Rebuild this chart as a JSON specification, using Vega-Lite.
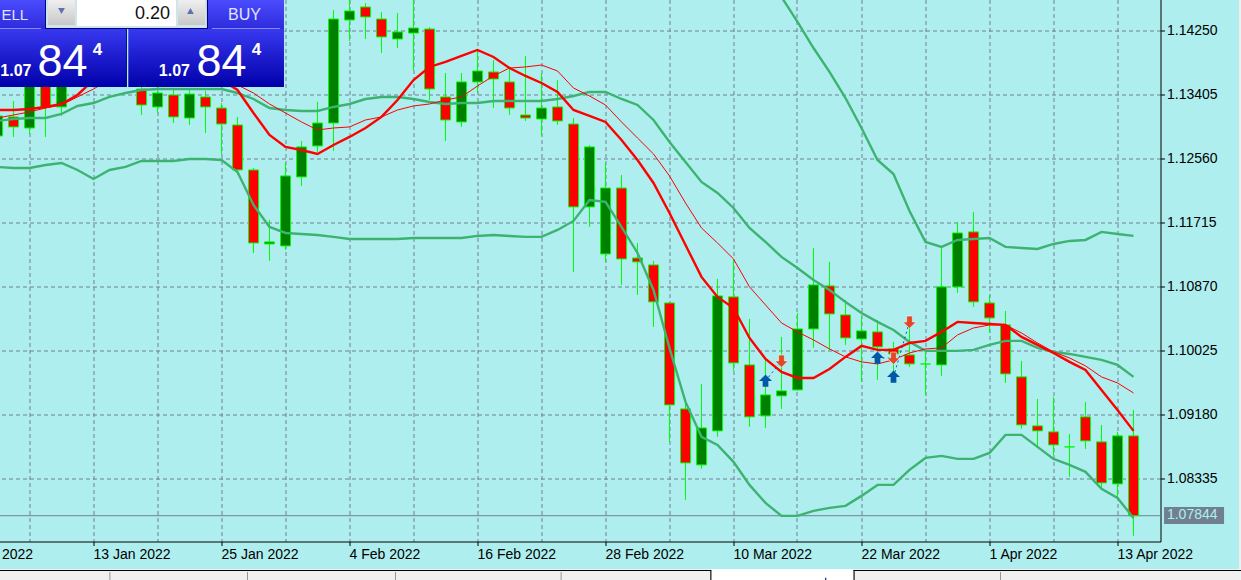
{
"$schema":"https://vega.github.io/schema/vega-lite/v6.json",
"width":1161,"height":542,"autosize":"none","padding":{"left":0,"top":0,"right":80,"bottom":38},
"background":"#AFEEEE",
"config":{"view":{"stroke":null},"text":{"font":"Liberation Sans"}},
"resolve":{"axis":{"x":"independent","y":"independent"}},
"datasets":{
"candles":[
{"k":-1,"open":1.12858,"high":1.13201,"low":1.12805,"close":1.13122,"dir":"up","fast":1.13201,"slow":1.13095,"mid":1.13056,"lower":1.12449},
{"k":0,"open":1.13109,"high":1.1332,"low":1.12845,"close":1.12977,"dir":"down","fast":1.13201,"slow":1.13135,"mid":1.13082,"lower":1.12435},
{"k":1,"open":1.12963,"high":1.13729,"low":1.12884,"close":1.13597,"dir":"up","fast":1.13214,"slow":1.13175,"mid":1.13095,"lower":1.12435},
{"k":2,"open":1.13729,"high":1.13861,"low":1.12845,"close":1.13241,"dir":"down","fast":1.13241,"slow":1.13227,"mid":1.13095,"lower":1.12475},
{"k":3,"open":1.13241,"high":1.13795,"low":1.13122,"close":1.13663,"dir":"up","fast":1.1328,"slow":1.13267,"mid":1.13148,"lower":1.12501},
{"k":4,"open":1.14257,"high":1.14389,"low":1.13663,"close":1.13861,"dir":"down","fast":1.13399,"slow":1.13373,"mid":1.13254,"lower":1.12409},
{"k":5,"open":1.13795,"high":1.14323,"low":1.13597,"close":1.14191,"dir":"up","fast":1.13597,"slow":1.13478,"mid":1.13293,"lower":1.1229},
{"k":6,"open":1.14125,"high":1.14257,"low":1.13663,"close":1.13861,"dir":"down","fast":1.13729,"slow":1.13597,"mid":1.13373,"lower":1.12409},
{"k":7,"open":1.14059,"high":1.14191,"low":1.13597,"close":1.13729,"dir":"down","fast":1.13795,"slow":1.13663,"mid":1.13425,"lower":1.12449},
{"k":8,"open":1.13478,"high":1.13597,"low":1.13135,"close":1.13267,"dir":"down","fast":1.13795,"slow":1.13703,"mid":1.13465,"lower":1.12528},
{"k":9,"open":1.13241,"high":1.13531,"low":1.13161,"close":1.13425,"dir":"up","fast":1.13795,"slow":1.13729,"mid":1.13478,"lower":1.12528},
{"k":10,"open":1.13399,"high":1.13478,"low":1.13029,"close":1.13109,"dir":"down","fast":1.13755,"slow":1.13729,"mid":1.13478,"lower":1.12528},
{"k":11,"open":1.13095,"high":1.13478,"low":1.13003,"close":1.13412,"dir":"up","fast":1.13729,"slow":1.13729,"mid":1.13478,"lower":1.12554},
{"k":12,"open":1.13373,"high":1.13452,"low":1.12897,"close":1.13241,"dir":"down","fast":1.13703,"slow":1.13703,"mid":1.13478,"lower":1.12554},
{"k":13,"open":1.13227,"high":1.13293,"low":1.1262,"close":1.13016,"dir":"down","fast":1.13597,"slow":1.13623,"mid":1.13478,"lower":1.12541},
{"k":14,"open":1.13003,"high":1.13109,"low":1.12343,"close":1.12409,"dir":"down","fast":1.13465,"slow":1.13531,"mid":1.13425,"lower":1.12383},
{"k":15,"open":1.12409,"high":1.12435,"low":1.11313,"close":1.11445,"dir":"down","fast":1.13161,"slow":1.13425,"mid":1.13346,"lower":1.11947},
{"k":16,"open":1.11432,"high":1.11749,"low":1.11208,"close":1.11459,"dir":"up","fast":1.12871,"slow":1.1328,"mid":1.13227,"lower":1.11657},
{"k":17,"open":1.11406,"high":1.12501,"low":1.11353,"close":1.1233,"dir":"up","fast":1.12713,"slow":1.13161,"mid":1.13201,"lower":1.11577},
{"k":18,"open":1.12317,"high":1.12792,"low":1.12198,"close":1.12713,"dir":"up","fast":1.12673,"slow":1.13043,"mid":1.13188,"lower":1.11564},
{"k":19,"open":1.12726,"high":1.13307,"low":1.12647,"close":1.13029,"dir":"up","fast":1.1262,"slow":1.12937,"mid":1.13188,"lower":1.11551},
{"k":20,"open":1.13029,"high":1.14521,"low":1.1266,"close":1.14402,"dir":"up","fast":1.12739,"slow":1.12963,"mid":1.13241,"lower":1.11525},
{"k":21,"open":1.14389,"high":1.14719,"low":1.14112,"close":1.14508,"dir":"up","fast":1.12845,"slow":1.12977,"mid":1.1328,"lower":1.11498},
{"k":22,"open":1.14561,"high":1.14613,"low":1.14138,"close":1.14429,"dir":"down","fast":1.12963,"slow":1.13069,"mid":1.13346,"lower":1.11498},
{"k":23,"open":1.14402,"high":1.14495,"low":1.13953,"close":1.14165,"dir":"down","fast":1.13109,"slow":1.13109,"mid":1.13373,"lower":1.11498},
{"k":24,"open":1.14138,"high":1.14481,"low":1.14019,"close":1.14231,"dir":"up","fast":1.13333,"slow":1.13201,"mid":1.13373,"lower":1.11498},
{"k":25,"open":1.14217,"high":1.14719,"low":1.13729,"close":1.14283,"dir":"up","fast":1.13597,"slow":1.13254,"mid":1.13346,"lower":1.11511},
{"k":26,"open":1.1427,"high":1.14297,"low":1.13333,"close":1.13478,"dir":"down","fast":1.13769,"slow":1.1328,"mid":1.13307,"lower":1.11511},
{"k":27,"open":1.13373,"high":1.13689,"low":1.12792,"close":1.13069,"dir":"down","fast":1.13835,"slow":1.13333,"mid":1.1328,"lower":1.11511},
{"k":28,"open":1.13043,"high":1.13689,"low":1.12977,"close":1.13571,"dir":"up","fast":1.13914,"slow":1.13373,"mid":1.13293,"lower":1.11511},
{"k":29,"open":1.13571,"high":1.13993,"low":1.13425,"close":1.13716,"dir":"up","fast":1.13993,"slow":1.13518,"mid":1.13293,"lower":1.11538},
{"k":30,"open":1.13703,"high":1.13861,"low":1.13227,"close":1.1361,"dir":"down","fast":1.13901,"slow":1.1365,"mid":1.1332,"lower":1.11551},
{"k":31,"open":1.13571,"high":1.13755,"low":1.13135,"close":1.13227,"dir":"down","fast":1.13755,"slow":1.13755,"mid":1.1332,"lower":1.11538},
{"k":32,"open":1.13135,"high":1.13914,"low":1.13056,"close":1.13095,"dir":"down","fast":1.1365,"slow":1.13769,"mid":1.1332,"lower":1.11525},
{"k":33,"open":1.13082,"high":1.13689,"low":1.12858,"close":1.13227,"dir":"up","fast":1.13557,"slow":1.13795,"mid":1.1332,"lower":1.11525},
{"k":34,"open":1.13241,"high":1.13597,"low":1.13003,"close":1.13056,"dir":"down","fast":1.13439,"slow":1.13716,"mid":1.13346,"lower":1.11617},
{"k":35,"open":1.13016,"high":1.13095,"low":1.11063,"close":1.11921,"dir":"down","fast":1.13201,"slow":1.13491,"mid":1.13386,"lower":1.11736},
{"k":36,"open":1.11921,"high":1.12739,"low":1.11657,"close":1.12713,"dir":"up","fast":1.13122,"slow":1.13386,"mid":1.13439,"lower":1.12013},
{"k":37,"open":1.113,"high":1.12501,"low":1.11195,"close":1.12171,"dir":"up","fast":1.13043,"slow":1.13267,"mid":1.13439,"lower":1.11987},
{"k":38,"open":1.12171,"high":1.12343,"low":1.10891,"close":1.11234,"dir":"down","fast":1.12805,"slow":1.13043,"mid":1.13346,"lower":1.11657},
{"k":39,"open":1.11247,"high":1.11445,"low":1.10759,"close":1.11195,"dir":"down","fast":1.12541,"slow":1.12831,"mid":1.13267,"lower":1.11313},
{"k":40,"open":1.11155,"high":1.11208,"low":1.10337,"close":1.10667,"dir":"down","fast":1.12237,"slow":1.1262,"mid":1.13069,"lower":1.10825},
{"k":41,"open":1.10653,"high":1.10667,"low":1.08819,"close":1.09307,"dir":"down","fast":1.11841,"slow":1.1233,"mid":1.12779,"lower":1.10059},
{"k":42,"open":1.09254,"high":1.09333,"low":1.08053,"close":1.08541,"dir":"down","fast":1.11419,"slow":1.11973,"mid":1.12515,"lower":1.09347},
{"k":43,"open":1.08515,"high":1.09584,"low":1.08462,"close":1.09003,"dir":"up","fast":1.10997,"slow":1.11643,"mid":1.12251,"lower":1.08885},
{"k":44,"open":1.08964,"high":1.1097,"low":1.08885,"close":1.10746,"dir":"up","fast":1.10733,"slow":1.11445,"mid":1.12105,"lower":1.08779},
{"k":45,"open":1.10733,"high":1.11221,"low":1.09756,"close":1.09861,"dir":"down","fast":1.10587,"slow":1.11234,"mid":1.11907,"lower":1.08555},
{"k":46,"open":1.09835,"high":1.10442,"low":1.09017,"close":1.09149,"dir":"down","fast":1.10191,"slow":1.10865,"mid":1.11643,"lower":1.08251},
{"k":47,"open":1.09162,"high":1.09901,"low":1.09003,"close":1.09439,"dir":"up","fast":1.09914,"slow":1.10627,"mid":1.11459,"lower":1.08013},
{"k":48,"open":1.09426,"high":1.10205,"low":1.09254,"close":1.09492,"dir":"up","fast":1.09743,"slow":1.10389,"mid":1.11261,"lower":1.07842},
{"k":49,"open":1.09505,"high":1.10521,"low":1.09492,"close":1.1031,"dir":"up","fast":1.09663,"slow":1.10271,"mid":1.11115,"lower":1.07842},
{"k":50,"open":1.1031,"high":1.11379,"low":1.10059,"close":1.10891,"dir":"up","fast":1.09663,"slow":1.10165,"mid":1.10957,"lower":1.07908},
{"k":51,"open":1.10878,"high":1.11195,"low":1.10033,"close":1.10508,"dir":"down","fast":1.09782,"slow":1.10046,"mid":1.10825,"lower":1.07947},
{"k":52,"open":1.10495,"high":1.10693,"low":1.10099,"close":1.10191,"dir":"down","fast":1.09941,"slow":1.09941,"mid":1.10667,"lower":1.07974},
{"k":53,"open":1.10178,"high":1.10469,"low":1.09611,"close":1.10284,"dir":"up","fast":1.10086,"slow":1.09875,"mid":1.10521,"lower":1.08106},
{"k":54,"open":1.10271,"high":1.10429,"low":1.09637,"close":1.10073,"dir":"down","fast":1.10033,"slow":1.09848,"mid":1.10403,"lower":1.08251},
{"k":55,"open":1.10046,"high":1.10139,"low":1.09729,"close":1.0998,"dir":"down","fast":1.10033,"slow":1.09901,"mid":1.10297,"lower":1.08251},
{"k":56,"open":1.09967,"high":1.10323,"low":1.09809,"close":1.09848,"dir":"down","fast":1.10125,"slow":1.09993,"mid":1.10139,"lower":1.08449},
{"k":57,"open":1.09848,"high":1.10033,"low":1.09439,"close":1.09848,"dir":"up","fast":1.10152,"slow":1.10046,"mid":1.1002,"lower":1.08607},
{"k":58,"open":1.09835,"high":1.11393,"low":1.0969,"close":1.10865,"dir":"up","fast":1.10271,"slow":1.10059,"mid":1.1002,"lower":1.08634},
{"k":59,"open":1.10865,"high":1.11723,"low":1.10785,"close":1.11577,"dir":"up","fast":1.10403,"slow":1.10231,"mid":1.1002,"lower":1.08594},
{"k":60,"open":1.11591,"high":1.11855,"low":1.10601,"close":1.10667,"dir":"down","fast":1.10389,"slow":1.10323,"mid":1.10033,"lower":1.08594},
{"k":61,"open":1.10653,"high":1.10759,"low":1.10257,"close":1.10455,"dir":"down","fast":1.10376,"slow":1.10363,"mid":1.10099,"lower":1.08673},
{"k":62,"open":1.10363,"high":1.10548,"low":1.09597,"close":1.09716,"dir":"down","fast":1.10363,"slow":1.10363,"mid":1.10152,"lower":1.08911},
{"k":63,"open":1.09677,"high":1.09888,"low":1.0899,"close":1.09043,"dir":"down","fast":1.10205,"slow":1.10257,"mid":1.10152,"lower":1.08911},
{"k":64,"open":1.0903,"high":1.09386,"low":1.08753,"close":1.08964,"dir":"down","fast":1.10099,"slow":1.10125,"mid":1.10059,"lower":1.08753},
{"k":65,"open":1.08951,"high":1.09413,"low":1.08647,"close":1.08779,"dir":"down","fast":1.09993,"slow":1.10007,"mid":1.10007,"lower":1.08594},
{"k":66,"open":1.08753,"high":1.08924,"low":1.08357,"close":1.08753,"dir":"up","fast":1.09875,"slow":1.09927,"mid":1.0998,"lower":1.08515},
{"k":67,"open":1.09149,"high":1.09347,"low":1.08726,"close":1.08832,"dir":"down","fast":1.09769,"slow":1.09822,"mid":1.09941,"lower":1.08423},
{"k":68,"open":1.08819,"high":1.09043,"low":1.08211,"close":1.08277,"dir":"down","fast":1.09505,"slow":1.09677,"mid":1.09901,"lower":1.08198},
{"k":69,"open":1.08264,"high":1.08951,"low":1.08079,"close":1.08898,"dir":"up","fast":1.09241,"slow":1.09597,"mid":1.09835,"lower":1.08079},
{"k":70,"open":1.08898,"high":1.09241,"low":1.07578,"close":1.07844,"dir":"down","fast":1.08964,"slow":1.09465,"mid":1.09677,"lower":1.07815}
],
"upper":[
{"k":48,"price":1.14693},{"k":49,"price":1.14363},{"k":50,"price":1.14019},{"k":51,"price":1.13703},{"k":52,"price":1.13359},{"k":53,"price":1.12963},{"k":54,"price":1.12541},{"k":55,"price":1.12356},{"k":56,"price":1.11868},{"k":57,"price":1.11459},{"k":58,"price":1.11393},{"k":59,"price":1.11485},{"k":60,"price":1.11498},{"k":61,"price":1.11511},{"k":62,"price":1.11393},{"k":63,"price":1.11379},{"k":64,"price":1.11366},{"k":65,"price":1.11432},{"k":66,"price":1.11472},{"k":67,"price":1.11485},{"k":68,"price":1.11591},{"k":69,"price":1.11564},{"k":70,"price":1.11538}
],
"trades":[
{"k":47,"k2":48,"p":1.09624,"p2":1.09888},{"k":54,"k2":55,"p":1.09927,"p2":1.09927},{"k":55,"k2":56,"p":1.09677,"p2":1.10403}
],
"buys":[{"k":47,"price":1.09624},{"k":54,"price":1.09927},{"k":55,"price":1.09677}],
"sells":[{"k":48,"price":1.09888},{"k":55,"price":1.09927},{"k":56,"price":1.10403}]
},
"layer":[
{"data":{"name":"candles"},"mark":{"type":"rule","color":"#00ff00","strokeWidth":1},
 "encoding":{"x":{"field":"k","type":"quantitative","scale":{"domain":[-0.84375,71.71875],"nice":false,"zero":false,"padding":0},
 "axis":{"title":null,"orient":"bottom","values":[1,5,9,13,17,21,25,29,33,37,41,45,49,53,57,61,65,69],"translate":0,"grid":true,"gridColor":"#708090","gridDash":[4,3],"gridWidth":1,"domainColor":"#000000","domainWidth":1,"tickColor":"#000000","tickSize":4,"tickOpacity":{"condition":{"test":"(datum.value+3)%8==0","value":1},"value":0},"labelColor":"#000000","labelFont":"Liberation Sans","labelFontSize":14,"labelAlign":"left","labelBaseline":"top","labelPadding":2,"labelOverlap":false,"labelFlush":false,"labelBound":false,"labelExpr":"['3 Jan 2022','13 Jan 2022','25 Jan 2022','4 Feb 2022','16 Feb 2022','28 Feb 2022','10 Mar 2022','22 Mar 2022','1 Apr 2022','13 Apr 2022'][(datum.value+3)/8]||''"}},
 "y":{"field":"low","type":"quantitative","scale":{"domain":[1.07497,1.14653],"nice":false,"zero":false},
 "axis":{"title":null,"orient":"right","values":[1.1425,1.13405,1.1256,1.11715,1.1087,1.10025,1.0918,1.08335],"format":".5f","translate":0,"grid":true,"gridColor":"#708090","gridDash":[4,3],"gridWidth":1,"domainColor":"#000000","domainWidth":1,"tickColor":"#000000","tickSize":4,"labelColor":"#000000","labelFont":"Liberation Sans","labelFontSize":14,"labelPadding":2,"labelOverlap":false,"labelFlush":false,"labelBound":false}},"y2":{"field":"high"}}},
{"data":{"values":[{"price":1.07844}]},"mark":{"type":"rule","color":"#708090","strokeWidth":1},"encoding":{"y":{"field":"price","type":"quantitative","axis":null}}},
{"data":{"name":"candles"},"mark":{"type":"bar","size":10,"stroke":"#00ff00","strokeWidth":1},
 "encoding":{"x":{"field":"k","type":"quantitative","scale":{"domain":[-0.84375,71.71875],"nice":false,"zero":false,"padding":0},"axis":null},"y":{"field":"open","type":"quantitative","axis":null},"y2":{"field":"close"},
 "color":{"field":"dir","type":"nominal","scale":{"domain":["up","down"],"range":["#008000","#ff0000"]},"legend":null}}},
{"data":{"name":"upper"},"mark":{"type":"line","color":"#3CB371","strokeWidth":2.4},"encoding":{"x":{"field":"k","type":"quantitative","axis":null},"y":{"field":"price","type":"quantitative","axis":null}}},
{"data":{"name":"candles"},"mark":{"type":"line","color":"#3CB371","strokeWidth":2.4},"encoding":{"x":{"field":"k","type":"quantitative","axis":null},"y":{"field":"mid","type":"quantitative","axis":null}}},
{"data":{"name":"candles"},"mark":{"type":"line","color":"#3CB371","strokeWidth":2.4},"encoding":{"x":{"field":"k","type":"quantitative","axis":null},"y":{"field":"lower","type":"quantitative","axis":null}}},
{"data":{"name":"candles"},"mark":{"type":"line","color":"#ff0000","strokeWidth":1},"encoding":{"x":{"field":"k","type":"quantitative","axis":null},"y":{"field":"slow","type":"quantitative","axis":null}}},
{"data":{"name":"candles"},"mark":{"type":"line","color":"#ff0000","strokeWidth":2.4},"encoding":{"x":{"field":"k","type":"quantitative","axis":null},"y":{"field":"fast","type":"quantitative","axis":null}}},
{"data":{"name":"trades"},"mark":{"type":"rule","color":"#0058A8","strokeWidth":1,"strokeDash":[2,3]},"encoding":{"x":{"field":"k","type":"quantitative","axis":null},"x2":{"field":"k2"},"y":{"field":"p","type":"quantitative","axis":null},"y2":{"field":"p2"}}},
{"data":{"name":"buys"},"mark":{"type":"point","filled":true,"opacity":1,"size":169,"color":"#0058A8","shape":"M0,-1L1,0L0.44,0L0.44,0.9L-0.44,0.9L-0.44,0L-1,0Z"},"encoding":{"x":{"field":"k","type":"quantitative","axis":null},"y":{"field":"price","type":"quantitative","axis":null}}},
{"data":{"name":"sells"},"mark":{"type":"point","filled":true,"opacity":1,"size":169,"color":"#E04828","stroke":"#EEF8F8","strokeWidth":0.6,"shape":"M0,1L1,0L0.44,0L0.44,-0.9L-0.44,-0.9L-0.44,0L-1,0Z"},"encoding":{"x":{"field":"k","type":"quantitative","axis":null},"y":{"field":"price","type":"quantitative","axis":null}}},
{"data":{"values":[{"a":71.91,"b":75.66,"c":1.07959,"d":1.07734}]},"mark":{"type":"rect","color":"#708090"},"encoding":{"x":{"field":"a","type":"quantitative","axis":null},"x2":{"field":"b"},"y":{"field":"c","type":"quantitative","axis":null},"y2":{"field":"d"}}},
{"data":{"values":[{"a":72.09,"c":1.07847,"t":"1.07844"}]},"mark":{"type":"text","align":"left","baseline":"middle","font":"Liberation Sans","fontSize":14,"color":"#AFEEEE"},"encoding":{"x":{"field":"a","type":"quantitative","axis":null},"y":{"field":"c","type":"quantitative","axis":null},"text":{"field":"t"}}},
{"data":{"values":[{"a":-0.72,"c":1.07418,"t":"2022"}]},"mark":{"type":"text","align":"left","baseline":"top","font":"Liberation Sans","fontSize":14,"color":"#000000"},"encoding":{"x":{"field":"a","type":"quantitative","axis":null},"y":{"field":"c","type":"quantitative","axis":null},"text":{"field":"t"}}},
{"data":{"values":[{"a":-0.9,"b":16.906,"c":1.1466,"d":1.1427}]},"mark":{"type":"rect","color":{"gradient":"linear","x1":0,"y1":0,"x2":0,"y2":1,"stops":[{"offset":0,"color":"#4C4CFF"},{"offset":1,"color":"#2C2CDC"}]}},"encoding":{"x":{"field":"a","type":"quantitative","axis":null},"x2":{"field":"b"},"y":{"field":"c","type":"quantitative","axis":null},"y2":{"field":"d"}}},
{"data":{"values":[{"a":-0.9,"b":16.906,"c":1.1427,"d":1.13504}]},"mark":{"type":"rect","color":{"gradient":"linear","x1":0,"y1":0,"x2":0,"y2":1,"stops":[{"offset":0,"color":"#3838F0"},{"offset":1,"color":"#0000AA"}]}},"encoding":{"x":{"field":"a","type":"quantitative","axis":null},"x2":{"field":"b"},"y":{"field":"c","type":"quantitative","axis":null},"y2":{"field":"d"}}},
{"data":{"values":[{"a":7.03,"b":7.09,"c":1.1427,"d":1.13504}]},"mark":{"type":"rect","color":"#000080"},"encoding":{"x":{"field":"a","type":"quantitative","axis":null},"x2":{"field":"b"},"y":{"field":"c","type":"quantitative","axis":null},"y2":{"field":"d"}}},
{"data":{"values":[{"a":7.09,"b":7.175,"c":1.1427,"d":1.13504}]},"mark":{"type":"rect","color":"#AFEEEE"},"encoding":{"x":{"field":"a","type":"quantitative","axis":null},"x2":{"field":"b"},"y":{"field":"c","type":"quantitative","axis":null},"y2":{"field":"d"}}},
{"data":{"values":[{"a":1.969,"b":12.156,"c":1.1466,"d":1.1427}]},"mark":{"type":"rect","color":"#000080"},"encoding":{"x":{"field":"a","type":"quantitative","axis":null},"x2":{"field":"b"},"y":{"field":"c","type":"quantitative","axis":null},"y2":{"field":"d"}}},
{"data":{"values":[{"a":2.03,"b":12.09,"c":1.1466,"d":1.14283}]},"mark":{"type":"rect","color":"#D0E4EC"},"encoding":{"x":{"field":"a","type":"quantitative","axis":null},"x2":{"field":"b"},"y":{"field":"c","type":"quantitative","axis":null},"y2":{"field":"d"}}},
{"data":{"values":[{"a":3.969,"b":10.156,"c":1.1466,"d":1.1431}]},"mark":{"type":"rect","color":"#FFFFFF"},"encoding":{"x":{"field":"a","type":"quantitative","axis":null},"x2":{"field":"b"},"y":{"field":"c","type":"quantitative","axis":null},"y2":{"field":"d"}}},
{"data":{"values":[{"a":2.156,"b":3.844,"c":1.1466,"d":1.14323},{"a":10.281,"b":11.969,"c":1.1466,"d":1.14323}]},"mark":{"type":"rect","color":{"gradient":"linear","x1":0,"y1":0,"x2":0,"y2":1,"stops":[{"offset":0,"color":"#F0F0F0"},{"offset":1,"color":"#C8C8C8"}]}},"encoding":{"x":{"field":"a","type":"quantitative","axis":null},"x2":{"field":"b"},"y":{"field":"c","type":"quantitative","axis":null},"y2":{"field":"d"}}},
{"data":{"values":[{"a":-0.9,"b":1.72,"c":1.14283,"d":1.1427},{"a":12.4,"b":16.66,"c":1.14283,"d":1.1427}]},"mark":{"type":"rect","color":"#8888EE"},"encoding":{"x":{"field":"a","type":"quantitative","axis":null},"x2":{"field":"b"},"y":{"field":"c","type":"quantitative","axis":null},"y2":{"field":"d"}}},
{"data":{"values":[{"a":3,"c":1.14508}]},"mark":{"type":"point","shape":"triangle-down","filled":true,"opacity":1,"size":45,"color":"#6070B0"},"encoding":{"x":{"field":"a","type":"quantitative","axis":null},"y":{"field":"c","type":"quantitative","axis":null}}},
{"data":{"values":[{"a":11.06,"c":1.14508}]},"mark":{"type":"point","shape":"triangle-up","filled":true,"opacity":1,"size":45,"color":"#6070B0"},"encoding":{"x":{"field":"a","type":"quantitative","axis":null},"y":{"field":"c","type":"quantitative","axis":null}}},
{"data":{"values":[{"a":-0.75,"c":1.14389,"t":"ELL"}]},"mark":{"type":"text","align":"left","baseline":"alphabetic","font":"Liberation Sans","fontSize":15,"color":"#E0E4FF"},"encoding":{"x":{"field":"a","type":"quantitative","axis":null},"y":{"field":"c","type":"quantitative","axis":null},"text":{"field":"t"}}},
{"data":{"values":[{"a":15.47,"c":1.14389,"t":"BUY"}]},"mark":{"type":"text","align":"right","baseline":"alphabetic","font":"Liberation Sans","fontSize":16,"color":"#E0E4FF"},"encoding":{"x":{"field":"a","type":"quantitative","axis":null},"y":{"field":"c","type":"quantitative","axis":null},"text":{"field":"t"}}},
{"data":{"values":[{"a":9.78,"c":1.14396,"t":"0.20"}]},"mark":{"type":"text","align":"right","baseline":"alphabetic","font":"Liberation Sans","fontSize":18,"color":"#101010"},"encoding":{"x":{"field":"a","type":"quantitative","axis":null},"y":{"field":"c","type":"quantitative","axis":null},"text":{"field":"t"}}},
{"data":{"values":[{"a":1.125,"c":1.1365,"t":"1.07"},{"a":11.03,"c":1.1365,"t":"1.07"}]},"mark":{"type":"text","align":"right","baseline":"alphabetic","font":"Liberation Sans","fontWeight":"bold","fontSize":16,"color":"#FFFFFF"},"encoding":{"x":{"field":"a","type":"quantitative","axis":null},"y":{"field":"c","type":"quantitative","axis":null},"text":{"field":"t"}}},
{"data":{"values":[{"a":3.0625,"c":1.1365,"t":"84"},{"a":13,"c":1.1365,"t":"84"}]},"mark":{"type":"text","align":"center","baseline":"alphabetic","font":"Liberation Sans","fontSize":45,"color":"#FFFFFF"},"encoding":{"x":{"field":"a","type":"quantitative","axis":null},"y":{"field":"c","type":"quantitative","axis":null},"text":{"field":"t"}}},
{"data":{"values":[{"a":5.25,"c":1.13927,"t":"4"},{"a":15.19,"c":1.13927,"t":"4"}]},"mark":{"type":"text","align":"center","baseline":"alphabetic","font":"Liberation Sans","fontWeight":"bold","fontSize":17,"color":"#FFFFFF"},"encoding":{"x":{"field":"a","type":"quantitative","axis":null},"y":{"field":"c","type":"quantitative","axis":null},"text":{"field":"t"}}},
{"data":{"values":[{"a":76.6,"b":76.8,"c":1.1466,"d":1.07127}]},"mark":{"type":"rect","color":"#F0F0F0"},"encoding":{"x":{"field":"a","type":"quantitative","axis":null},"x2":{"field":"b"},"y":{"field":"c","type":"quantitative","axis":null},"y2":{"field":"d"}}},
{"data":{"values":[{"a":-0.9,"b":76.8,"c":1.0714,"d":1.0699}]},"mark":{"type":"rect","color":"#F0F0F0"},"encoding":{"x":{"field":"a","type":"quantitative","axis":null},"x2":{"field":"b"},"y":{"field":"c","type":"quantitative","axis":null},"y2":{"field":"d"}}},
{"data":{"values":[{"a":-0.9,"b":76.8,"c":1.07127,"d":1.07114}]},"mark":{"type":"rect","color":"#000000"},"encoding":{"x":{"field":"a","type":"quantitative","axis":null},"x2":{"field":"b"},"y":{"field":"c","type":"quantitative","axis":null},"y2":{"field":"d"}}},
{"data":{"values":[{"a":43.6,"b":52.5,"c":1.0714,"d":1.0699}]},"mark":{"type":"rect","color":"#FFFFFF"},"encoding":{"x":{"field":"a","type":"quantitative","axis":null},"x2":{"field":"b"},"y":{"field":"c","type":"quantitative","axis":null},"y2":{"field":"d"}}},
{"data":{"values":[{"a":50.72,"b":50.8}]},"mark":{"type":"rect","color":"#203060"},"encoding":{"x":{"field":"a","type":"quantitative","axis":null},"x2":{"field":"b"},"y":{"datum":1.07025,"type":"quantitative","axis":null},"y2":{"datum":1.0699}}},
{"data":{"values":[{"a":6,"b":6.05},{"a":14.6,"b":14.65},{"a":23.85,"b":23.9},{"a":34.2,"b":34.25},{"a":61.66,"b":61.71}]},"mark":{"type":"rect","color":"#808080"},"encoding":{"x":{"field":"a","type":"quantitative","axis":null},"x2":{"field":"b"},"y":{"datum":1.07101,"type":"quantitative","axis":null},"y2":{"datum":1.0699}}},
{"data":{"values":[{"a":43.55,"b":43.62},{"a":52.5,"b":52.57}]},"mark":{"type":"rect","color":"#000000"},"encoding":{"x":{"field":"a","type":"quantitative","axis":null},"x2":{"field":"b"},"y":{"datum":1.07127,"type":"quantitative","axis":null},"y2":{"datum":1.0699}}}
]
}
